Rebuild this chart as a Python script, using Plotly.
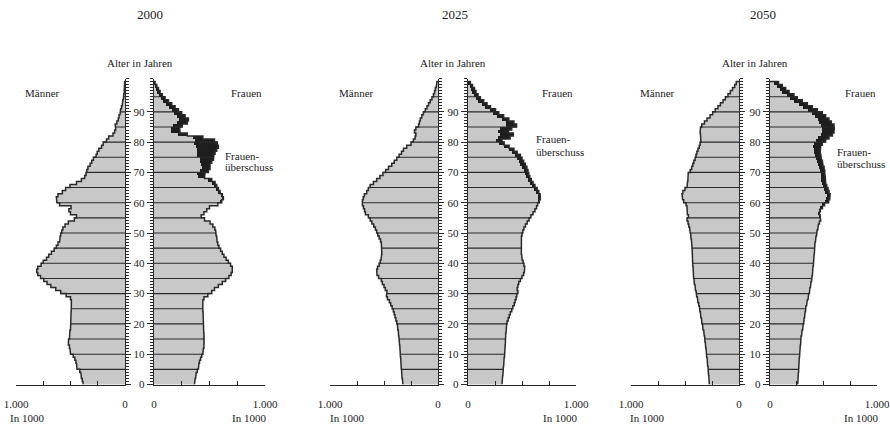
import plotly.graph_objects as go

W, H = 890, 425
FONT = "Liberation Serif"

ages = list(range(100))
years = ["2000", "2025", "2050"]

# Population in 1000 by single year of age (0..99)
men_2000 = [385, 392, 400, 405, 415, 440, 445, 450, 460, 475,
            500, 505, 510, 520, 518, 510, 505, 505, 500, 500,
            495, 500, 498, 495, 493, 490, 490, 492, 500, 540,
            590, 635, 680, 715, 745, 775, 800, 810, 800, 770,
            750, 720, 700, 675, 650, 630, 615, 600, 595, 590,
            580, 570, 550, 520, 465, 445, 500, 515, 495, 600,
            625, 630, 615, 575, 545, 505, 445, 400, 370, 358,
            350, 340, 320, 305, 290, 265, 255, 240, 215, 200,
            170, 150, 110, 95, 85, 90, 75, 62, 55, 46,
            40, 32, 25, 20, 15, 11, 8, 6, 4, 3]
women_2000 = [365, 370, 375, 380, 390, 400, 405, 410, 420, 430,
              440, 445, 450, 455, 455, 455, 450, 448, 445, 445,
              445, 447, 445, 442, 440, 438, 438, 440, 450, 485,
              520, 545, 580, 615, 645, 675, 695, 705, 705, 690,
              670, 650, 630, 615, 600, 585, 575, 568, 565, 560,
              555, 548, 530, 505, 455, 425, 450, 475, 500, 575,
              610, 625, 615, 595, 580, 565, 550, 520, 455, 460,
              490, 505, 505, 520, 535, 540, 550, 565, 580, 570,
              545, 440, 300, 235, 230, 255, 300, 310, 280, 250,
              220, 190, 160, 130, 100, 75, 55, 40, 25, 10]
surplus_2000 = [0] * 60 + [15, 15, 15, 18, 20, 25, 30, 35, 60, 70,
                           75, 75, 85, 105, 120, 150, 165, 175, 200, 210,
                           180, 90, 80, 80, 80, 85, 90, 85, 75, 70,
                           60, 55, 50, 45, 40, 32, 25, 20, 15, 8]

men_2025 = [325, 330, 333, 336, 338, 340, 342, 344, 346, 348,
            350, 352, 354, 356, 358, 362, 365, 368, 372, 376,
            381, 390, 398, 406, 414, 425, 438, 450, 468, 478,
            472, 488, 500, 515, 525, 550, 565, 568, 560, 545,
            535, 528, 522, 520, 522, 520, 525, 532, 545, 558,
            568, 580, 595, 612, 628, 645, 672, 680, 690, 700,
            700, 692, 682, 660, 645, 628, 598, 568, 538, 510,
            485, 458, 428, 405, 382, 360, 338, 320, 290, 250,
            228, 212, 205, 218, 205, 180, 172, 164, 150, 135,
            118, 102, 88, 72, 56, 42, 32, 24, 16, 10]
women_2025 = [315, 318, 321, 323, 325, 328, 330, 333, 335, 338,
              340, 342, 344, 345, 346, 348, 350, 352, 355, 358,
              362, 372, 382, 392, 405, 415, 428, 436, 445, 452,
              462, 455, 462, 470, 485, 500, 515, 522, 525, 518,
              510, 502, 496, 494, 495, 492, 490, 490, 495, 500,
              508, 518, 532, 548, 565, 582, 602, 620, 635, 645,
              660, 670, 668, 655, 640, 620, 602, 586, 572, 562,
              555, 545, 530, 515, 500, 485, 455, 425, 380, 335,
              315, 390, 420, 375, 405, 450, 425, 378, 330, 285,
              255, 208, 176, 145, 115, 93, 74, 60, 42, 22]
surplus_2025 = [0] * 60 + [15, 18, 22, 25, 28, 30, 32, 34, 36, 38,
                           40, 42, 44, 45, 46, 48, 48, 48, 50, 50,
                           55, 110, 120, 95, 110, 100, 75, 65, 60, 58,
                           55, 52, 50, 48, 45, 42, 38, 35, 28, 18]

men_2050 = [275, 277, 280, 282, 285, 287, 290, 293, 296, 299,
            302, 305, 308, 312, 315, 318, 322, 327, 333, 338,
            343, 348, 353, 358, 362, 367, 373, 380, 386, 392,
            398, 403, 408, 413, 417, 420, 422, 424, 426, 428,
            429, 430, 431, 432, 434, 435, 438, 441, 444, 448,
            452, 458, 465, 472, 481, 468, 478, 480, 482, 490,
            512, 522, 528, 520, 500, 482, 476, 474, 472, 470,
            452, 438, 428, 418, 406, 398, 390, 380, 368, 360,
            352, 356, 358, 360, 356, 345, 320, 296, 268, 244,
            220, 195, 172, 148, 126, 102, 80, 60, 40, 25]
women_2050 = [259, 261, 263, 265, 267, 268, 270, 272, 274, 276,
              277, 280, 283, 286, 288, 290, 295, 300, 305, 310,
              315, 319, 323, 328, 332, 336, 342, 349, 355, 362,
              368, 373, 378, 383, 388, 393, 396, 399, 402, 405,
              408, 410, 412, 414, 416, 417, 421, 425, 430, 435,
              440, 446, 453, 462, 474, 468, 462, 470, 490, 510,
              548, 558, 562, 552, 542, 530, 522, 518, 515, 513,
              511, 505, 496, 489, 481, 474, 468, 467, 474, 489,
              520, 551, 583, 598, 604, 598, 573, 551, 520, 489,
              442, 396, 349, 302, 255, 224, 178, 146, 115, 80]
surplus_2050 = [0] * 55 + [10, 12, 15, 20, 25,
                           30, 32, 34, 35, 36, 38, 40, 40, 40, 40,
                           42, 44, 45, 46, 48, 50, 55, 60, 70, 80,
                           92, 100, 108, 115, 118, 118, 112, 105, 100, 95,
                           90, 85, 80, 75, 72, 68, 62, 55, 48, 40]

men_all = [men_2000, men_2025, men_2050]
women_all = [women_2000, women_2025, women_2050]
surplus_all = [surplus_2000, surplus_2025, surplus_2050]

x_ticks = [0, 250, 500, 750, 1000]
x_ticktext = ["0", "", "", "", "1.000"]
age_ticks = list(range(0, 100, 10))

GREY = "#c8c8c8"
DARK = "#1e1e1e"
LINE = "#2a2a2a"

# pixel layout of the panels
men_px = [(16, 125), (330, 438), (631, 739)]
women_px = [(154, 265), (468, 576), (770, 877)]
y_bottom_px, y_top_px = 384.5, 78.5
ydom = [(H - y_bottom_px) / H, (H - y_top_px) / H]

fig = go.Figure()


def step_outline(vals):
    xs, ys = [], []
    for a, v in enumerate(vals):
        xs += [v, v]
        ys += [a, a + 1]
    xs.append(0)
    ys.append(len(vals))
    return xs, ys


def five_lines(vals):
    xs, ys = [], []
    for a in range(5, 100, 5):
        xs += [0, max(vals[a - 1], vals[a]), None]
        ys += [a, a, None]
    return xs, ys


for i in range(3):
    mx = "x" if i == 0 else f"x{2 * i + 1}"
    my = "y" if i == 0 else f"y{2 * i + 1}"
    wx = f"x{2 * i + 2}"
    wy = f"y{2 * i + 2}"
    men = men_all[i]
    women = women_all[i]
    surplus = surplus_all[i]
    grey_w = [w - s for w, s in zip(women, surplus)]
    centers = [a + 0.5 for a in ages]

    fig.add_trace(go.Bar(x=men, y=centers, orientation="h", width=1,
                         marker=dict(color=GREY, line=dict(width=0)),
                         xaxis=mx, yaxis=my, hoverinfo="skip"))
    fig.add_trace(go.Bar(x=grey_w, y=centers, orientation="h", width=1,
                         marker=dict(color=GREY, line=dict(width=0)),
                         xaxis=wx, yaxis=wy, hoverinfo="skip"))
    fig.add_trace(go.Bar(x=surplus, base=grey_w, y=centers, orientation="h", width=1,
                         marker=dict(color=DARK, line=dict(width=0)),
                         xaxis=wx, yaxis=wy, hoverinfo="skip"))
    for vals, xa, ya in [(men, mx, my), (women, wx, wy)]:
        lx, ly = five_lines(vals)
        fig.add_trace(go.Scatter(x=lx, y=ly, mode="lines",
                                 line=dict(color=LINE, width=1.1),
                                 xaxis=xa, yaxis=ya, hoverinfo="skip"))
        ox, oy = step_outline(vals)
        fig.add_trace(go.Scatter(x=ox, y=oy, mode="lines",
                                 line=dict(color=LINE, width=1.5),
                                 xaxis=xa, yaxis=ya, hoverinfo="skip"))

    common_x = dict(showline=True, linecolor=LINE, linewidth=1.2, ticks="inside",
                    ticklen=4, tickcolor=LINE, tickvals=x_ticks, ticktext=x_ticktext,
                    tickfont=dict(family=FONT, size=11, color="#222"),
                    showgrid=False, zeroline=False, fixedrange=True,
                    automargin=False, ticklabelstandoff=9)
    mxk = "xaxis" if i == 0 else f"xaxis{2 * i + 1}"
    myk = "yaxis" if i == 0 else f"yaxis{2 * i + 1}"
    wxk = f"xaxis{2 * i + 2}"
    wyk = f"yaxis{2 * i + 2}"
    fig.update_layout(**{
        mxk: dict(common_x, domain=[men_px[i][0] / W, men_px[i][1] / W],
                  range=[1000, 0], anchor=my),
        wxk: dict(common_x, domain=[women_px[i][0] / W, women_px[i][1] / W],
                  range=[0, 1000], anchor=wy),
        myk: dict(domain=ydom, range=[0, 101], anchor=mx, side="right",
                  showline=True, linecolor=LINE, linewidth=1.2,
                  ticks="outside", tickvals=age_ticks, ticklen=5, tickcolor=LINE,
                  showticklabels=False, showgrid=False, zeroline=False,
                  minor=dict(tickmode="linear", tick0=0, dtick=1, ticks="outside",
                             ticklen=3, tickcolor=LINE),
                  automargin=False, fixedrange=True),
        wyk: dict(domain=ydom, range=[0, 101], anchor=wx, side="left",
                  showline=True, linecolor=LINE, linewidth=1.2,
                  ticks="outside", tickvals=age_ticks, ticklen=6, tickcolor=LINE,
                  tickfont=dict(family=FONT, size=11, color="#222"),
                  showgrid=False, zeroline=False,
                  minor=dict(tickmode="linear", tick0=0, dtick=1, ticks="outside",
                             ticklen=3, tickcolor=LINE),
                  automargin=False, fixedrange=True),
    })


# text annotations (pixel positions converted to paper coords)
def ann(text, x, y, size=11, xanchor="center"):
    fig.add_annotation(text=text, x=x / W, y=(H - y) / H, xref="paper", yref="paper",
                       showarrow=False, xanchor=xanchor, yanchor="middle",
                       font=dict(family=FONT, size=size, color="#222"))


title_x = [150, 455, 763]
alter_x = [140, 453, 755]
maenner_x = [42, 356, 657]
frauen_x = [246, 557, 860]
ueber = [(223, 156, 167), (534, 139, 152), (835, 152, 164)]
in1000_m = [27, 347, 647]
in1000_w = [249, 560, 861]

for i, yr in enumerate(years):
    ann(yr, title_x[i], 15, size=13)
    ann("Alter in Jahren", alter_x[i], 63, size=11)
    ann("Männer", maenner_x[i], 93, size=11)
    ann("Frauen", frauen_x[i], 93, size=11)
    ann("Frauen-", ueber[i][0], ueber[i][1], size=11, xanchor="left")
    ann("überschuss", ueber[i][0], ueber[i][2], size=11, xanchor="left")
    ann("In 1000", in1000_m[i], 418, size=11)
    ann("In 1000", in1000_w[i], 418, size=11)

fig.update_layout(width=W, height=H, autosize=False,
                  margin=dict(l=0, r=0, t=0, b=0, pad=0, autoexpand=False),
                  paper_bgcolor="white", plot_bgcolor="white",
                  showlegend=False, barmode="overlay", bargap=0)

fig.write_html("out.html", config={"displayModeBar": False, "staticPlot": True},
               post_script="document.body.style.margin='0';document.body.style.overflow='hidden';")
